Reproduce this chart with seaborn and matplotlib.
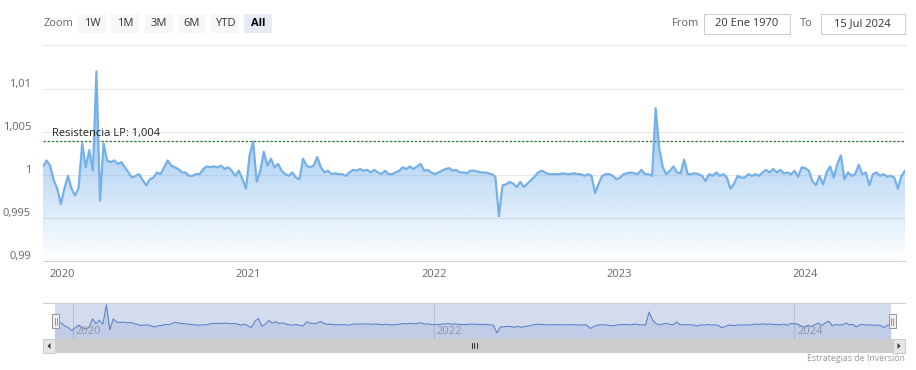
import numpy as np
import pandas as pd
import matplotlib
matplotlib.use("Agg")
import matplotlib.pyplot as plt
import matplotlib.dates as mdates
from matplotlib.patches import Rectangle, Polygon
from matplotlib.lines import Line2D
from matplotlib.transforms import ScaledTranslation, blended_transform_factory
from matplotlib.colors import to_rgb
import seaborn as sns

# ---------------- data ----------------
start_date = "2019-11-25"
end_date = "2024-07-15"
prices = [
    1.0010, 1.0017, 1.0011, 0.9994, 0.9984, 0.9966, 0.9984, 0.9999, 0.9984, 0.9976,
    0.9985, 1.0037, 1.0009, 1.0029, 1.0005, 1.0121, 0.9970, 1.0037, 1.0017, 1.0015,
    1.0017, 1.0013, 1.0015, 1.0009, 1.0003, 0.9997, 0.9999, 1.0001, 0.9994, 0.9988,
    0.9995, 0.9997, 1.0003, 1.0001, 1.0009, 1.0017, 1.0011, 1.0009, 1.0007, 1.0003,
    1.0003, 0.9999, 0.9999, 1.0001, 1.0001, 1.0007, 1.0010, 1.0009, 1.0010, 1.0009,
    1.0011, 1.0007, 1.0009, 1.0005, 0.9999, 1.0005, 0.9995, 0.9984, 1.0023, 1.0039,
    0.9992, 1.0005, 1.0027, 1.0011, 1.0019, 1.0009, 1.0013, 1.0005, 1.0001, 0.9999,
    1.0003, 0.9997, 0.9995, 1.0019, 1.0011, 1.0009, 1.0011, 1.0021, 1.0009, 1.0003,
    1.0005, 1.0001, 1.0002, 1.0001, 1.0001, 0.9999, 1.0003, 1.0006, 1.0005, 1.0007,
    1.0005, 1.0006, 1.0003, 1.0006, 1.0003, 1.0001, 1.0005, 1.0001, 1.0001, 1.0003,
    1.0005, 1.0009, 1.0007, 1.0010, 1.0007, 1.0010, 1.0013, 1.0005, 1.0006, 1.0003,
    1.0001, 1.0003, 1.0005, 1.0007, 1.0008, 1.0005, 1.0006, 1.0003, 1.0003, 1.0002,
    1.0005, 1.0005, 1.0004, 1.0003, 1.0003, 1.0002, 1.0001, 0.9998, 0.9952, 0.9988,
    0.9989, 0.9992, 0.9990, 0.9986, 0.9992, 0.9986, 0.9990, 0.9994, 0.9998, 1.0003,
    1.0005, 1.0003, 1.0001, 1.0001, 1.0001, 1.0001, 1.0002, 1.0001, 1.0001, 1.0002,
    1.0001, 1.0001, 0.9999, 1.0001, 0.9999, 0.9979, 0.9990, 0.9999, 1.0001, 1.0001,
    0.9999, 0.9995, 0.9997, 1.0001, 1.0002, 1.0003, 1.0002, 1.0001, 1.0006, 1.0001,
    1.0001, 0.9999, 1.0078, 1.0031, 1.0009, 1.0001, 1.0005, 1.0010, 1.0003, 1.0002,
    1.0018, 1.0001, 1.0001, 1.0002, 1.0001, 0.9999, 0.9993, 1.0001, 0.9999, 1.0003,
    0.9999, 1.0001, 0.9997, 0.9984, 0.9990, 0.9999, 0.9997, 0.9997, 1.0001, 0.9999,
    1.0001, 0.9999, 1.0003, 1.0006, 1.0003, 1.0007, 1.0003, 1.0006, 1.0002, 1.0003,
    1.0001, 1.0005, 0.9998, 1.0009, 1.0008, 1.0005, 0.9993, 0.9988, 0.9999, 0.9989,
    1.0003, 1.0010, 0.9997, 1.0013, 1.0023, 0.9995, 1.0003, 0.9999, 1.0001, 1.0012,
    1.0001, 1.0003, 0.9988, 1.0001, 1.0003, 0.9999, 1.0001, 0.9998, 0.9999, 0.9997,
    0.9984, 0.9999, 1.0005,
]
dates = pd.date_range(start_date, end_date, freq="7D")
n = min(len(dates), len(prices))
dates = dates[:n]
prices = prices[:n]

y_ticks = [0.99, 0.995, 1.0, 1.005, 1.01]
y_tick_labels = ["0,99", "0,995", "1", "1,005", "1,01"]
x_tick_years = [2020, 2021, 2022, 2023, 2024]
nav_tick_years = [2020, 2022, 2024]
resistance = 1.004
resistance_label = "Resistencia LP: 1,004"
zoom_label = "Zoom"
zoom_buttons = ["1W", "1M", "3M", "6M", "YTD", "All"]
selected_button = "All"
from_label, from_date = "From", "20 Ene 1970"
to_label, to_date = "To", "15 Jul 2024"
credit = "Estrategias de Inversión"

# ---------------- style ----------------
sns.set_style("white")
plt.rcParams["font.family"] = ["Open Sans", "DejaVu Sans"]

LINE = "#76b0e8"
GRID = "#e6e6e6"
AXIS = "#ccd6eb"
LABEL = "#666666"

W, H = 916, 370
fig = plt.figure(figsize=(W / 100, H / 100), dpi=100)
fig.patch.set_facecolor("white")


def fx(px):
    return px / W


def fy(py):
    return 1 - py / H


def frect(x0, y0, x1, y1, **kw):
    r = Rectangle((fx(x0), fy(y1)), (x1 - x0) / W, (y1 - y0) / H,
                  transform=fig.transFigure, **kw)
    fig.add_artist(r)
    return r


def fline(xs, ys, **kw):
    fig.add_artist(Line2D([fx(x) for x in xs], [fy(y) for y in ys],
                          transform=fig.transFigure, **kw))


def ftext(x, y, s, **kw):
    fig.text(fx(x), fy(y), s, **kw)


# ---------------- main chart ----------------
ax = fig.add_axes([fx(43), fy(260.7), fx(905) - fx(43), fy(45) - fy(260.7)])
ax.set_facecolor("white")
df = pd.DataFrame({"date": dates, "price": prices})
xn = mdates.date2num(df["date"])
ymin, ymax = 0.99, 1.01517

# gradient area under the line
rgba = np.zeros((256, 1, 4))
rgba[..., :3] = to_rgb("#7cb5ec")
rgba[:, 0, 3] = np.linspace(1.0, 0.0, 256)
top = max(prices)
im = ax.imshow(rgba, extent=[xn[0], xn[-1], ymin, top], aspect="auto",
               origin="upper", zorder=1, interpolation="bilinear")
verts = [(xn[0], ymin)] + list(zip(xn, prices)) + [(xn[-1], ymin)]
clip = Polygon(verts, closed=True, facecolor="none", edgecolor="none",
               transform=ax.transData)
ax.add_patch(clip)
im.set_clip_path(clip)

sns.lineplot(data=df, x="date", y="price", ax=ax, color=LINE, lw=1.6,
             estimator=None, zorder=4, solid_joinstyle="round")

ax.axhline(resistance, color="#2f7d32", lw=0.9, ls=(0, (2.0, 1.3)), zorder=3)
ax.annotate(resistance_label, xy=(9 / 862, resistance),
            xycoords=blended_transform_factory(ax.transAxes, ax.transData),
            xytext=(0, 1.5), textcoords="offset points", va="bottom", ha="left",
            fontsize=8, color="#222222", zorder=5)

ax.set_xlim(xn[0], xn[-1])
ax.set_ylim(ymin, ymax)
ax.set_yticks(y_ticks)
ax.set_yticklabels(y_tick_labels)
xt = [mdates.date2num(pd.Timestamp(f"{y}-01-01")) for y in x_tick_years]
ax.set_xticks(xt)
ax.set_xticklabels([str(y) for y in x_tick_years])
ax.set_xlabel("")
ax.set_ylabel("")
ax.grid(axis="y", color=GRID, lw=0.75, zorder=0)
ax.grid(axis="x", visible=False)
ax.set_axisbelow(True)
for s in ["left", "right"]:
    ax.spines[s].set_visible(False)
ax.spines["top"].set_color(GRID)
ax.spines["top"].set_linewidth(0.75)
ax.spines["bottom"].set_color(AXIS)
ax.spines["bottom"].set_linewidth(0.75)
ax.tick_params(axis="x", length=4, width=0.75, color=AXIS, labelsize=8,
               labelcolor=LABEL, pad=2)
ax.tick_params(axis="y", length=0, labelsize=8, labelcolor=LABEL, pad=8.6)
off = ScaledTranslation(0, 6 / 100, fig.dpi_scale_trans)
for lbl in ax.get_yticklabels():
    lbl.set_transform(lbl.get_transform() + off)

# ---------------- navigator ----------------
nav = fig.add_axes([fx(54.5), fy(339), fx(891) - fx(54.5), fy(303) - fy(339)])
nav.set_facecolor("#d3dbed")
nav_lo, nav_hi = 0.9915, 1.0133
nav.fill_between(xn, prices, nav_lo, color="#6685c2", alpha=0.16, lw=0, zorder=2)
sns.lineplot(data=df, x="date", y="price", ax=nav, color="#5f84cc", lw=0.8,
             estimator=None, zorder=3)
nav.set_xlim(xn[0], xn[-1])
nav.set_ylim(nav_lo, nav_hi)
nav.set_xticks([])
nav.set_yticks([])
nav.set_xlabel("")
nav.set_ylabel("")
for s in nav.spines.values():
    s.set_visible(False)
nav_trans = blended_transform_factory(nav.transData, nav.transAxes)
for y in nav_tick_years:
    d = mdates.date2num(pd.Timestamp(f"{y}-01-01"))
    nav.axvline(d, color="#b9c1d3", lw=0.75, zorder=1)
    nav.annotate(str(y), xy=(d, 0.2), xycoords=nav_trans, xytext=(2, 0),
                 textcoords="offset points", ha="left", va="center",
                 fontsize=8, color="#8e96a6", zorder=4)

# navigator outline and handles
fline([43, 905], [303, 303], color="#cccccc", lw=0.75)
for cx in (55.5, 892.3):
    frect(cx - 3.5, 314, cx + 3.5, 328, facecolor="#f2f2f2", edgecolor="#999999", lw=0.75)
    fline([cx - 1, cx - 1], [317.5, 324.5], color="#999999", lw=0.75)
    fline([cx + 1, cx + 1], [317.5, 324.5], color="#999999", lw=0.75)

# scrollbar
frect(43, 339.3, 905, 352.7, facecolor="#f2f2f2", edgecolor="none")
frect(55, 339.3, 893, 352.7, facecolor="#cccccc", edgecolor="none")
frect(43, 339.3, 55, 352.7, facecolor="#e6e6e6", edgecolor="#cccccc", lw=0.75)
frect(893, 339.3, 905, 352.7, facecolor="#e6e6e6", edgecolor="#cccccc", lw=0.75)
fig.add_artist(Polygon([(fx(50.5), fy(343)), (fx(50.5), fy(349)), (fx(47.5), fy(346))],
                       closed=True, transform=fig.transFigure, facecolor="#333333",
                       edgecolor="none"))
fig.add_artist(Polygon([(fx(897.5), fy(343)), (fx(897.5), fy(349)), (fx(900.5), fy(346))],
                       closed=True, transform=fig.transFigure, facecolor="#333333",
                       edgecolor="none"))
for gx in (471.8, 474.2, 476.6):
    fline([gx, gx], [342.6, 348.2], color="#333333", lw=0.75)

ftext(905, 358.5, credit, ha="right", va="center", fontsize=6.3, color="#999999")

# ---------------- range selector ----------------
ftext(44, 23.5, zoom_label, ha="left", va="center", fontsize=8, color=LABEL)
for i, b in enumerate(zoom_buttons):
    x0 = 78.3 + 33.15 * i
    sel = b == selected_button
    frect(x0, 14, x0 + 28, 33.3, facecolor="#e6ebf5" if sel else "#f7f7f7",
          edgecolor="none")
    ftext(x0 + 14, 23.5, b, ha="center", va="center", fontsize=8,
          color="#000000" if sel else "#333333",
          fontweight="bold" if sel else "normal")

ftext(671.7, 23.5, from_label, ha="left", va="center", fontsize=8, color=LABEL)
frect(704.3, 14, 790, 33.5, facecolor="white", edgecolor="#cccccc", lw=0.75)
ftext(747, 23.5, from_date, ha="center", va="center", fontsize=8, color="#333333")
ftext(800, 23.5, to_label, ha="left", va="center", fontsize=8, color=LABEL)
frect(820.7, 14, 905, 33.5, facecolor="white", edgecolor="#cccccc", lw=0.75)
ftext(862.8, 23.5, to_date, ha="center", va="center", fontsize=8, color="#333333")

fig.savefig("out.png", dpi=100, facecolor="white")
